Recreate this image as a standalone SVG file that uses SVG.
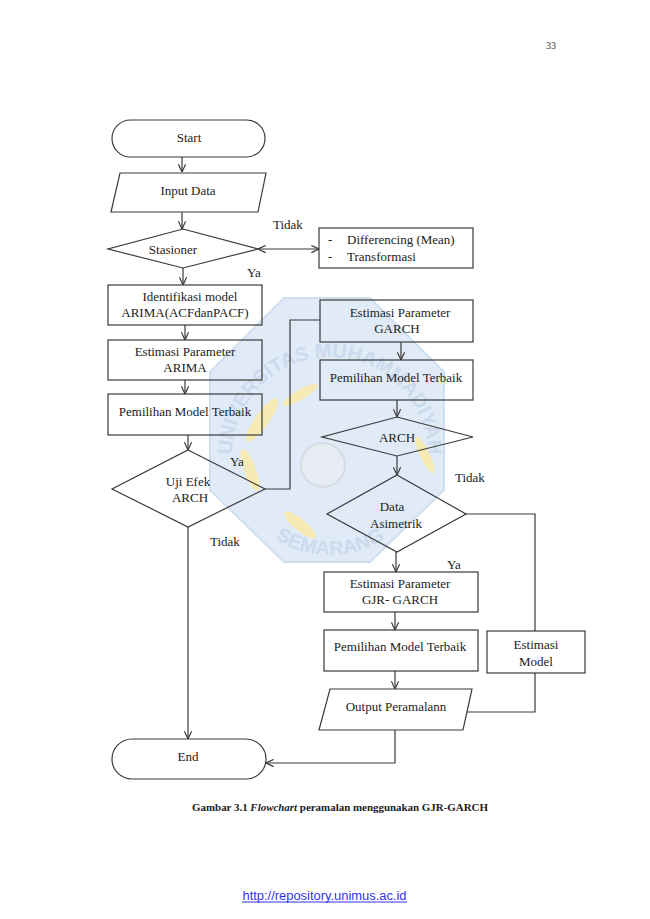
<svg xmlns="http://www.w3.org/2000/svg" width="650" height="919" viewBox="0 0 650 919">
<style>
  .n { fill: none; stroke: #3a3a3a; stroke-width: 1.2; }
  .c { fill: none; stroke: #3a3a3a; stroke-width: 1.2; }
  .t { font-family: "Liberation Serif", "Times New Roman", serif; font-size: 13px; fill: #222222; text-anchor: middle; }
  .l { font-family: "Liberation Serif", "Times New Roman", serif; font-size: 13px; fill: #222222; }
  .wm { font-family: "Liberation Sans", Arial, sans-serif; font-weight: bold; font-size: 20px; fill: #c3d5ea; }
</style>
<defs>
  <marker id="arr" viewBox="0 0 10 10" refX="9.5" refY="5" markerWidth="9" markerHeight="9" markerUnits="userSpaceOnUse" orient="auto-start-reverse">
    <path d="M1,1 L9.5,5 L1,9" fill="none" stroke="#3a3a3a" stroke-width="1.3"/>
  </marker>
  <path id="arcTop" d="M238,489 A98,98 0 1 1 422,489"/>
  <path id="arcBot" d="M250,515 A100,100 0 0 0 410,515"/>
</defs>
<rect x="0" y="0" width="650" height="919" fill="#ffffff"/>

<g id="watermark" opacity="0.85">
  <polygon points="284,298 370,298 444,372 444,490 370,562 284,562 210,490 210,372" fill="#dbe8f6" stroke="#c8daee" stroke-width="2"/>
  <ellipse cx="262" cy="420" rx="7" ry="26" transform="rotate(35 262 420)" fill="#f4e7a8"/>
  <ellipse cx="250" cy="470" rx="6" ry="22" transform="rotate(-20 250 470)" fill="#f4e7a8"/>
  <ellipse cx="300" cy="395" rx="5" ry="20" transform="rotate(60 300 395)" fill="#f4e7a8"/>
  <ellipse cx="300" cy="525" rx="6" ry="20" transform="rotate(-50 300 525)" fill="#f4e7a8"/>
  <ellipse cx="425" cy="455" rx="5" ry="20" transform="rotate(-25 425 455)" fill="#f4e7a8"/>
  <circle cx="323" cy="465" r="22" fill="#e3e9f0" stroke="#cdd6e0" stroke-width="2"/>
  <text class="wm"><textPath href="#arcTop" startOffset="50%" text-anchor="middle">UNIVERSITAS MUHAMMADIYAH</textPath></text>
  <text class="wm"><textPath href="#arcBot" startOffset="50%" text-anchor="middle">SEMARANG</textPath></text>
</g>

<text x="551" y="49" font-family="Liberation Serif, serif" font-size="10" fill="#333333" text-anchor="middle">33</text>

<g id="connectors">
  <line class="c" x1="182" y1="157" x2="182" y2="172" marker-end="url(#arr)"/>
  <line class="c" x1="182" y1="212" x2="182" y2="229" marker-end="url(#arr)"/>
  <line class="c" x1="258" y1="249" x2="319" y2="249" marker-start="url(#arr)" marker-end="url(#arr)"/>
  <line class="c" x1="183" y1="268" x2="183" y2="285" marker-end="url(#arr)"/>
  <line class="c" x1="185" y1="325" x2="185" y2="340" marker-end="url(#arr)"/>
  <line class="c" x1="185" y1="380" x2="185" y2="394" marker-end="url(#arr)"/>
  <line class="c" x1="188" y1="435" x2="188" y2="450" marker-end="url(#arr)"/>
  <polyline class="c" points="265,489 290,489 290,320 320,320"/>
  <line class="c" x1="188" y1="527" x2="188" y2="739" marker-end="url(#arr)"/>
  <line class="c" x1="401" y1="342" x2="401" y2="360" marker-end="url(#arr)"/>
  <line class="c" x1="397" y1="400" x2="397" y2="417" marker-end="url(#arr)"/>
  <line class="c" x1="397" y1="456" x2="397" y2="475" marker-end="url(#arr)"/>
  <polyline class="c" points="466,514 535,514 535,631"/>
  <line class="c" x1="396" y1="552" x2="396" y2="572" marker-end="url(#arr)"/>
  <line class="c" x1="395" y1="612" x2="395" y2="630" marker-end="url(#arr)"/>
  <line class="c" x1="395" y1="671" x2="395" y2="689" marker-end="url(#arr)"/>
  <polyline class="c" points="535,673 535,712 467,712"/>
  <polyline class="c" points="395,730 395,763 266,763" marker-end="url(#arr)"/>
  <text class="l" x="273" y="229">Tidak</text>
  <text class="l" x="247" y="277">Ya</text>
  <text class="l" x="230" y="466">Ya</text>
  <text class="l" x="210" y="546">Tidak</text>
  <text class="l" x="455" y="482">Tidak</text>
  <text class="l" x="447" y="569">Ya</text>
</g>

<g id="start">
  <rect class="n" x="112" y="120" width="153" height="37" rx="18.5"/>
  <text class="t" x="189" y="142">Start</text>
</g>
<g id="input">
  <polygon class="n" points="120,173 266,173 258,212 111,212"/>
  <text class="t" x="188" y="195">Input Data</text>
</g>
<g id="stasioner">
  <polygon class="n" points="183,229 258,249 183,268 108,249"/>
  <text class="t" x="173" y="254">Stasioner</text>
</g>
<g id="transform">
  <rect class="n" x="319" y="228" width="154" height="40"/>
  <text class="l" x="328" y="244">-</text>
  <text class="l" x="347" y="244">Differencing (Mean)</text>
  <text class="l" x="328" y="261">-</text>
  <text class="l" x="347" y="261">Transformasi</text>
</g>
<g id="identifikasi">
  <rect class="n" x="108" y="285" width="154" height="40"/>
  <text class="t" x="190" y="301">Identifikasi model</text>
  <text class="t" x="185" y="317">ARIMA(ACFdanPACF)</text>
</g>
<g id="estimasi-arima">
  <rect class="n" x="108" y="340" width="154" height="40"/>
  <text class="t" x="185" y="356">Estimasi Parameter</text>
  <text class="t" x="185" y="372">ARIMA</text>
</g>
<g id="pemilihan-arima">
  <rect class="n" x="108" y="394" width="154" height="41"/>
  <text class="t" x="185" y="416">Pemilihan Model Terbaik</text>
</g>
<g id="uji-arch">
  <polygon class="n" points="188,450 265,489 188,527 112,489"/>
  <text class="t" x="188" y="486">Uji Efek</text>
  <text class="t" x="190" y="502">ARCH</text>
</g>
<g id="estimasi-garch">
  <rect class="n" x="320" y="300" width="153" height="42"/>
  <text class="t" x="400" y="317">Estimasi Parameter</text>
  <text class="t" x="397" y="333">GARCH</text>
</g>
<g id="pemilihan-garch">
  <rect class="n" x="320" y="360" width="153" height="40"/>
  <text class="t" x="396" y="382">Pemilihan Model Terbaik</text>
</g>
<g id="arch">
  <polygon class="n" points="397,417 473,437 397,456 322,437"/>
  <text class="t" x="397" y="442">ARCH</text>
</g>
<g id="data-asimetrik">
  <polygon class="n" points="397,475 466,514 397,552 327,514"/>
  <text class="t" x="392" y="511">Data</text>
  <text class="t" x="396" y="528">Asimetrik</text>
</g>
<g id="estimasi-gjr">
  <rect class="n" x="324" y="572" width="154" height="40"/>
  <text class="t" x="400" y="588">Estimasi Parameter</text>
  <text class="t" x="400" y="604">GJR- GARCH</text>
</g>
<g id="pemilihan-gjr">
  <rect class="n" x="324" y="630" width="154" height="41"/>
  <text class="t" x="400" y="651">Pemilihan Model Terbaik</text>
</g>
<g id="estimasi-model">
  <rect class="n" x="487" y="631" width="98" height="42"/>
  <text class="t" x="536" y="649">Estimasi</text>
  <text class="t" x="536" y="666">Model</text>
</g>
<g id="output">
  <polygon class="n" points="330,689 472,689 463,730 319,730"/>
  <text class="t" x="396" y="711">Output Peramalann</text>
</g>
<g id="end">
  <rect class="n" x="112" y="739" width="154" height="40" rx="20"/>
  <text class="t" x="188" y="761">End</text>
</g>

<text x="340" y="811" font-family="Liberation Serif, serif" font-size="11" font-weight="bold" fill="#222222" text-anchor="middle" textLength="296" lengthAdjust="spacingAndGlyphs">Gambar 3.1 <tspan font-style="italic">Flowchart</tspan> peramalan menggunakan GJR-GARCH</text>

<text x="324.5" y="900" font-family="Liberation Sans, Arial, sans-serif" font-size="12" fill="#3333ee" text-anchor="middle" textLength="164" lengthAdjust="spacingAndGlyphs">http://repository.unimus.ac.id</text>
<line x1="242" y1="902" x2="407" y2="902" stroke="#3333ee" stroke-width="1"/>
</svg>
